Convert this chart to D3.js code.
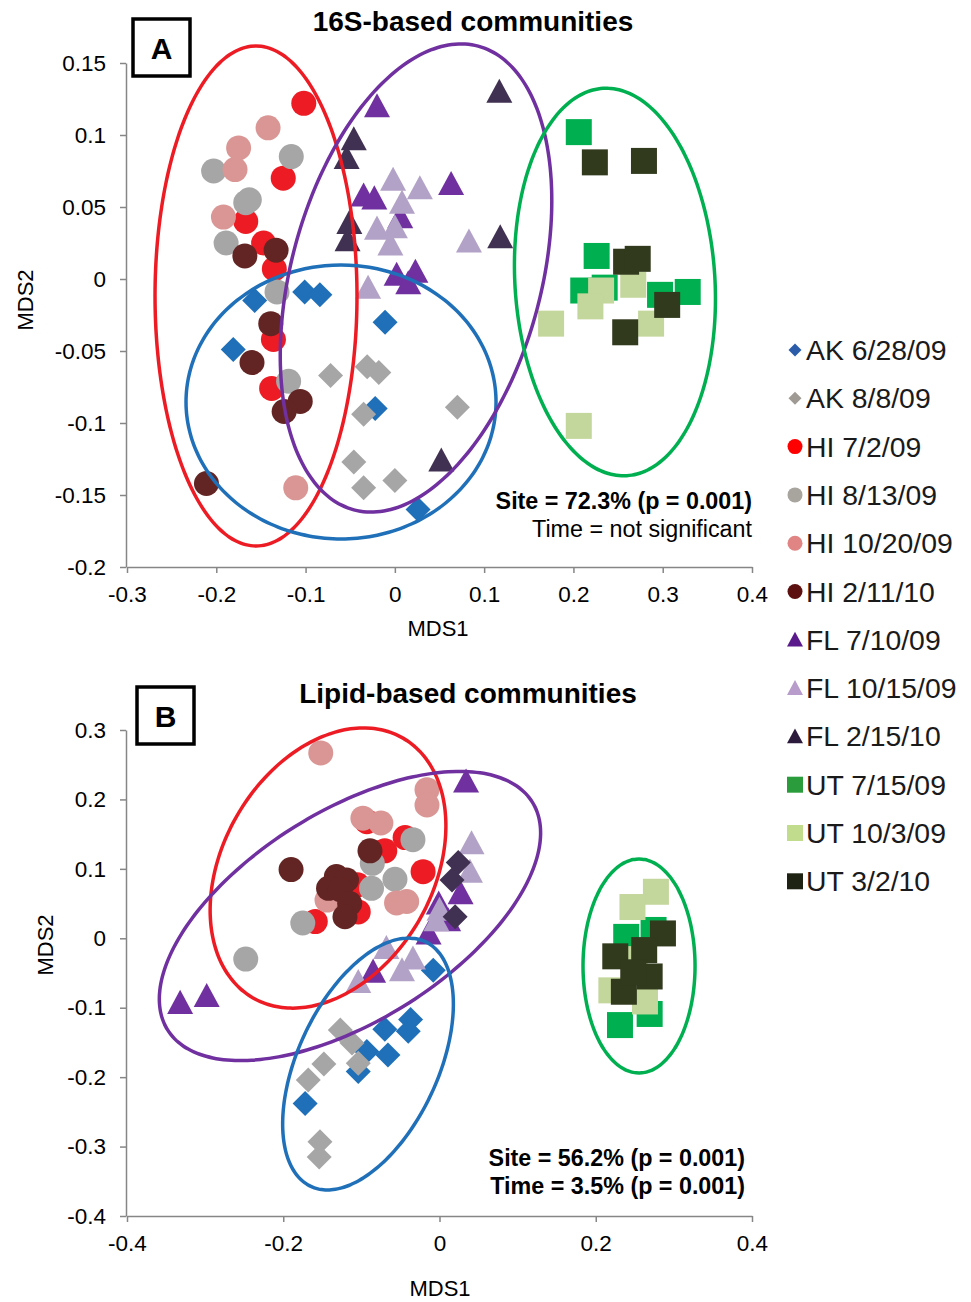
<html>
<head>
<script src="https://d3js.org/d3.v7.min.js"></script>
<style>
	body { margin: 0; background: #fff; }
	text { font-family: "Liberation Sans", Arial, sans-serif; }
</style>
</head>
<body>
<script>
	// series (legend order)
	var seriesNames = ["AK 6/28/09","AK 8/8/09","HI 7/2/09","HI 8/13/09","HI 10/20/09","HI 2/11/10",
		"FL 7/10/09","FL 10/15/09","FL 2/15/10","UT 7/15/09","UT 10/3/09","UT 3/2/10"];
	var shapesA = ["diamond","diamond","circle","circle","circle","circle","triangle","triangle","triangle","square","square","square"];
	var shapesB = ["diamond","diamond","circle","circle","circle","circle","triangle","triangle","diamond","square","square","square"];
	var colors = ["#1f70b8","#a6a6a6","#ed1c24","#a6a6a6","#d99694","#632523",
		"#7030a0","#b3a2c7","#403152","#00b050","#c3d69b","#323a1e"];
	var legendColors = ["#2a5caa","#a09a94","#ff0000","#a8a49e","#e08484","#5c1010",
		"#5a1a8c","#b89ccc","#2c1a3c","#2a9c3c","#c2dc8e","#1e2212"];

	// panel A: 16S-based, [MDS1, MDS2]
	var ptsA = [
		[[-0.157,-0.015],[-0.101,-0.009],[-0.084,-0.011],[-0.011,-0.030],[-0.181,-0.049],[-0.022,-0.090],[0.026,-0.160]],
		[[-0.072,-0.067],[-0.031,-0.061],[-0.018,-0.065],[-0.035,-0.094],[-0.046,-0.127],[-0.035,-0.145],[0.000,-0.140],[0.070,-0.089]],
		[[-0.102,0.122],[-0.125,0.070],[-0.167,0.040],[-0.147,0.025],[-0.135,0.007],[-0.136,-0.042],[-0.138,-0.076]],
		[[-0.203,0.075],[-0.116,0.085],[-0.167,0.053],[-0.163,0.055],[-0.189,0.025],[-0.132,-0.009],[-0.119,-0.071]],
		[[-0.142,0.105],[-0.175,0.091],[-0.179,0.076],[-0.192,0.043],[-0.111,-0.145]],
		[[-0.168,0.016],[-0.133,0.020],[-0.139,-0.031],[-0.160,-0.058],[-0.106,-0.085],[-0.124,-0.092],[-0.211,-0.142]],
		[[-0.020,0.120],[-0.035,0.058],[-0.023,0.056],[0.006,0.043],[0.023,0.005],[0.002,0.003],[0.015,-0.003],[0.063,0.066]],
		[[-0.002,0.069],[0.028,0.063],[0.008,0.053],[-0.020,0.035],[0.000,0.036],[-0.005,0.024],[-0.030,-0.006],[0.083,0.026]],
		[[-0.046,0.097],[-0.054,0.084],[-0.051,0.039],[-0.053,0.027],[0.117,0.130],[0.118,0.029],[0.052,-0.126]],
		[[0.206,0.102],[0.226,0.016],[0.211,-0.008],[0.235,-0.006],[0.297,-0.011],[0.328,-0.009]],
		[[0.231,-0.008],[0.267,-0.004],[0.219,-0.019],[0.175,-0.031],[0.287,-0.031],[0.206,-0.102]],
		[[0.224,0.081],[0.279,0.082],[0.259,0.012],[0.272,0.014],[0.305,-0.018],[0.258,-0.037]]
	];
	// panel B: lipid-based
	var ptsB = [
		[[-0.008,-0.046],[-0.037,-0.117],[-0.040,-0.134],[-0.070,-0.131],[-0.066,-0.168],[-0.093,-0.163],[-0.104,-0.192],[-0.172,-0.238]],
		[[-0.127,-0.132],[-0.112,-0.151],[-0.104,-0.180],[-0.148,-0.181],[-0.168,-0.204],[-0.153,-0.293],[-0.154,-0.315]],
		[[-0.044,0.145],[-0.070,0.126],[-0.021,0.096],[-0.105,0.077],[-0.104,0.038],[-0.159,0.024],[-0.093,0.168]],
		[[-0.034,0.142],[-0.086,0.108],[-0.057,0.085],[-0.087,0.072],[-0.175,0.022],[-0.248,-0.030]],
		[[-0.152,0.267],[-0.016,0.214],[-0.016,0.192],[-0.098,0.173],[-0.075,0.166],[-0.144,0.055],[-0.055,0.051],[-0.042,0.053]],
		[[-0.190,0.099],[-0.089,0.126],[-0.132,0.089],[-0.119,0.084],[-0.142,0.072],[-0.127,0.070],[-0.115,0.050],[-0.121,0.031]],
		[[-0.332,-0.093],[-0.298,-0.083],[0.034,0.226],[0.027,0.065],[-0.001,0.050],[0.011,0.026],[-0.014,0.007],[-0.085,-0.048]],
		[[0.041,0.137],[0.039,0.096],[0.000,0.041],[-0.068,-0.014],[-0.034,-0.029],[-0.048,-0.046],[-0.104,-0.063],[-0.004,0.026]],
		[[0.024,0.109],[0.016,0.084],[0.020,0.031]],
		[[0.239,0.002],[0.274,0.012],[0.231,-0.125],[0.269,-0.109]],
		[[0.277,0.067],[0.247,0.045],[0.220,-0.075],[0.263,-0.091],[0.250,-0.030]],
		[[0.286,0.007],[0.225,-0.026],[0.262,-0.017],[0.269,-0.055],[0.236,-0.077],[0.248,-0.049]]
	];

	// ellipses: center, semi-axis vector u, semi-axis vector v (data units)
	var ellipsesA = [
		{color:"#ed1c24", c:[-0.1555,-0.0118], u:[0,0.1736], v:[0.1131,0]},
		{color:"#1f70b8", c:[-0.0603,-0.0854], u:[0.1736,0], v:[0,0.0951]},
		{color:"#7030a0", c:[0.0237,0.0007], u:[0.0696,0.161], v:[0.1352,-0.0225]},
		{color:"#00b050", c:[0.2465,-0.0021], u:[-0.0132,0.1345], v:[0.1118,0.0042]}
	];
	var ellipsesB = [
		{color:"#ed1c24", c:[-0.1427,0.1012], u:[0.096,0.1871], v:[0.1164,-0.0756]},
		{color:"#7030a0", c:[-0.1146,0.0321], u:[0.2334,0.1641], v:[0.0712,-0.1282]},
		{color:"#1f70b8", c:[-0.0915,-0.1811], u:[0.0731,0.1763], v:[0.0812,-0.0426]},
		{color:"#00b050", c:[0.2554,-0.0399], u:[0,0.1541], v:[0.0717,0]}
	];

	var ticksAx = [-0.3,-0.2,-0.1,0,0.1,0.2,0.3,0.4];
	var ticksAy = [0.15,0.1,0.05,0,-0.05,-0.1,-0.15,-0.2];
	var ticksBx = [-0.4,-0.2,0,0.2,0.4];
	var ticksBy = [0.3,0.2,0.1,0,-0.1,-0.2,-0.3,-0.4];

	var svg = d3.select("body").append("svg").attr("width",971).attr("height",1302);

	function shapePath(s, big){
		var r;
		if(s=="circle"){ r = big?12.5:7.5; return "M"+(-r)+",0A"+r+","+r+" 0 1,0 "+r+",0A"+r+","+r+" 0 1,0 "+(-r)+",0Z"; }
		if(s=="square"){ r = big?13:8; return "M"+(-r)+","+(-r)+"H"+r+"V"+r+"H"+(-r)+"Z"; }
		if(s=="diamond"){ r = big?12.5:6.5; return "M0,"+(-r)+"L"+r+",0L0,"+r+"L"+(-r)+",0Z"; }
		if(s=="triangle"){ r = big?13:8; return "M0,"+(-r*1.0)+"L"+r+","+(r*0.85)+"L"+(-r)+","+(r*0.85)+"Z"; }
	}

	function tickFmt(d){ return d==0 ? "0" : String(d); }

	function panel(opt){
		var x = d3.scaleLinear().domain(opt.xd).range([127,752]);
		var y = d3.scaleLinear().domain(opt.yd).range([opt.y1,opt.y0]);
		var g = svg.append("g");

		var yAxis = g.append("g").attr("transform","translate(126,0)")
			.call(d3.axisLeft(y).tickValues(opt.ty).tickFormat(tickFmt).tickSize(6).tickSizeOuter(0));
		var xAxis = g.append("g").attr("transform","translate(0,"+opt.y1+")")
			.call(d3.axisBottom(x).tickValues(opt.tx).tickFormat(tickFmt).tickSize(6).tickSizeOuter(0));
		[yAxis,xAxis].forEach(function(a){
			a.select(".domain").attr("stroke","#868686").attr("stroke-width",1.5);
			a.selectAll(".tick line").attr("stroke","#868686").attr("stroke-width",1.5);
			a.selectAll("text").attr("font-size",22.5).attr("fill","#000")
				.attr("font-family","'Liberation Sans', Arial, sans-serif");
		});
		yAxis.selectAll("text").attr("x",-20);
		xAxis.selectAll("text").attr("y",19);

		opt.pts.forEach(function(series,si){
			g.append("g").selectAll("path").data(series).enter().append("path")
				.attr("d",shapePath(opt.shapes[si],true))
				.attr("transform",function(d){ return "translate("+x(d[0])+","+y(d[1])+")"; })
				.attr("fill",colors[si]);
		});

		var ts = d3.range(0,361,3).map(function(t){ return t*Math.PI/180; });
		opt.ell.forEach(function(e){
			var line = d3.line()
				.x(function(t){ return x(e.c[0]+Math.cos(t)*e.u[0]+Math.sin(t)*e.v[0]); })
				.y(function(t){ return y(e.c[1]+Math.cos(t)*e.u[1]+Math.sin(t)*e.v[1]); })
				.curve(d3.curveCardinalClosed);
			g.append("path").attr("d",line(ts.slice(0,-1))).attr("fill","none")
				.attr("stroke",e.color).attr("stroke-width",3.5);
		});

		g.append("text").attr("x",opt.titleX).attr("y",opt.titleY).attr("text-anchor","middle")
			.attr("font-size",28).attr("font-weight","bold").text(opt.title);
		g.append("rect").attr("x",opt.box[0]).attr("y",opt.box[1]).attr("width",57).attr("height",57)
			.attr("fill","#fff").attr("stroke","#000").attr("stroke-width",3.5);
		g.append("text").attr("x",opt.box[0]+28.5).attr("y",opt.box[1]+40).attr("text-anchor","middle")
			.attr("font-size",30).attr("font-weight","bold").text(opt.letter);

		g.append("text").attr("x",opt.xlab[0]).attr("y",opt.xlab[1]).attr("text-anchor","middle")
			.attr("font-size",22).text("MDS1");
		g.append("text").attr("transform","translate("+opt.ylab[0]+","+opt.ylab[1]+") rotate(-90)")
			.attr("text-anchor","middle").attr("font-size",22).text("MDS2");

		opt.notes.forEach(function(n,i){
			g.append("text").attr("x",opt.noteX).attr("y",opt.noteY+i*28).attr("text-anchor","end")
				.attr("font-size",23.3).attr("font-weight",n[1]?"bold":"normal").text(n[0]);
		});
	}

	panel({xd:[-0.3,0.4], yd:[-0.2,0.15], y0:63, y1:567, tx:ticksAx, ty:ticksAy, pts:ptsA, shapes:shapesA,
		ell:ellipsesA, title:"16S-based communities", titleX:473, titleY:31, box:[133,19], letter:"A",
		xlab:[438,636], ylab:[33,300], noteX:752, noteY:509,
		notes:[["Site = 72.3% (p = 0.001)",true],["Time = not significant",false]]});
	panel({xd:[-0.4,0.4], yd:[-0.4,0.3], y0:730, y1:1216, tx:ticksBx, ty:ticksBy, pts:ptsB, shapes:shapesB,
		ell:ellipsesB, title:"Lipid-based communities", titleX:468, titleY:703, box:[137,687], letter:"B",
		xlab:[440,1296], ylab:[53,945], noteX:745, noteY:1166,
		notes:[["Site = 56.2% (p = 0.001)",true],["Time = 3.5% (p = 0.001)",true]]});

	// legend
	var leg = svg.append("g");
	seriesNames.forEach(function(name,i){
		var ly = 350 + i*48.3;
		leg.append("path").attr("d",shapePath(shapesA[i],false))
			.attr("transform","translate(795,"+ly+")").attr("fill",legendColors[i]);
		leg.append("text").attr("x",806).attr("y",ly+10).attr("font-size",28.4).attr("fill","#1a1a1a").text(name);
	});
</script>
</body>
</html>
